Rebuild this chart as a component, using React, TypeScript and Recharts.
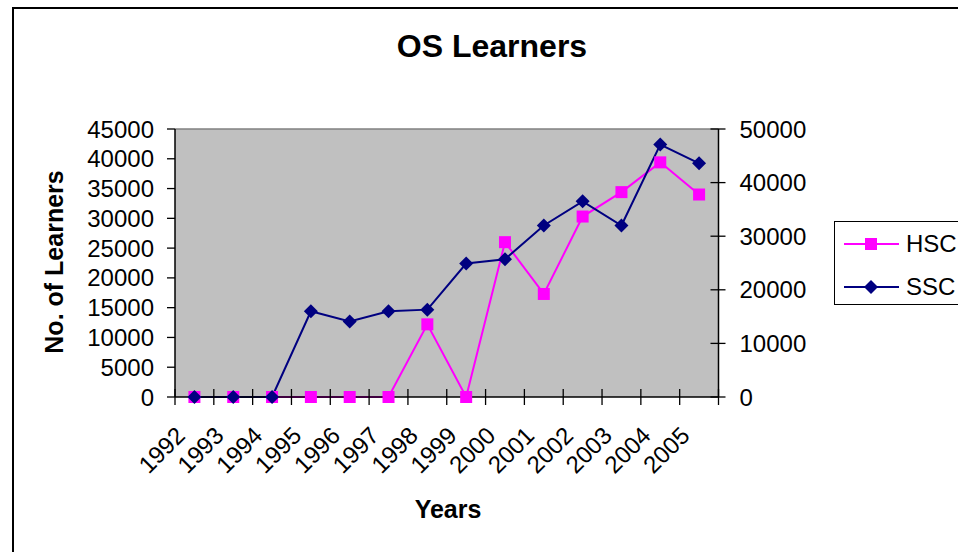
import { CartesianGrid, Customized, Legend, Line, LineChart, ReferenceLine, XAxis, YAxis } from "recharts";

// Excel-style palette
const PINK = "#FF00FF";
const NAVY = "#000080";
const PLOT_BG = "#C0C0C0";
const FONT = "'Liberation Sans', Arial, sans-serif";

const years = ["1992", "1993", "1994", "1995", "1996", "1997", "1998", "1999", "2000", "2001", "2002", "2003", "2004", "2005"];
const hsc = [0, 0, 0, 0, 0, 0, 12200, 0, 26000, 17300, 30300, 34400, 39400, 34000];
const ssc = [0, 0, 0, 16000, 14100, 16000, 16300, 24900, 25700, 32000, 36500, 32000, 47100, 43600];
const leftTicks = [0, 5000, 10000, 15000, 20000, 25000, 30000, 35000, 40000, 45000];
const rightTicks = [0, 10000, 20000, 30000, 40000, 50000];

// categories sit in the middle of each slot, tick marks on slot edges
const data = years.map((year, i) => ({ pos: i + 0.5, year, hsc: hsc[i], ssc: ssc[i] }));
const xTicks: number[] = [];
for (let i = 0; i <= years.length * 2; i++) xTicks.push(i / 2);

const Square = (p: any) => <rect key={p.index} x={p.cx - 6} y={p.cy - 6} width={12} height={12} fill={PINK} />;
const Diamond = (p: any) => (
  <polygon key={p.index} points={`${p.cx},${p.cy - 7} ${p.cx + 7},${p.cy} ${p.cx},${p.cy + 7} ${p.cx - 7},${p.cy}`} fill={NAVY} />
);

function XTick({ x, y, payload }: any) {
  const v = payload.value;
  if (Number.isInteger(v)) {
    return <line x1={x} x2={x} y1={y - 8} y2={y + 8} stroke="#000" strokeWidth={1.3} />;
  }
  const tx = x - 8;
  const ty = y + 40;
  return (
    <text x={tx} y={ty} transform={`rotate(-45, ${tx}, ${ty})`} textAnchor="end" fontSize={24} fontFamily={FONT} fill="#000">
      {years[Math.floor(v)]}
    </text>
  );
}

function LeftTick({ x, y, payload }: any) {
  return (
    <g>
      <line x1={x - 8} x2={x} y1={y} y2={y} stroke="#000" strokeWidth={1.3} />
      <text x={x - 21} y={y + 8.5} textAnchor="end" fontSize={24} fontFamily={FONT} fill="#000">
        {payload.value}
      </text>
    </g>
  );
}

function RightTick({ x, y, payload }: any) {
  return (
    <g>
      <line x1={x - 8} x2={x + 7} y1={y} y2={y} stroke="#000" strokeWidth={1.3} />
      <text x={x + 21} y={y + 8.5} textAnchor="start" fontSize={24} fontFamily={FONT} fill="#000">
        {payload.value}
      </text>
    </g>
  );
}

function LegendBox() {
  return (
    <div style={{ width: 200, height: 84, border: "1px solid #000", background: "#fff", boxSizing: "border-box" }}>
      <svg width={200} height={82}>
        <line x1={9} x2={64} y1={22} y2={22} stroke={PINK} strokeWidth={2} />
        <rect x={30} y={16} width={12} height={12} fill={PINK} />
        <text x={71} y={30} fontSize={24} fontFamily={FONT} fill="#000">HSC</text>
        <line x1={9} x2={64} y1={65} y2={65} stroke={NAVY} strokeWidth={2} />
        <polygon points="36,58 43,65 36,72 29,65" fill={NAVY} />
        <text x={71} y={73} fontSize={24} fontFamily={FONT} fill="#000">SSC</text>
      </svg>
    </div>
  );
}

function Title() {
  return (
    <text x={492} y={57} textAnchor="middle" fontSize={32} fontWeight="bold" fontFamily={FONT} fill="#000">
      OS Learners
    </text>
  );
}

export default function App() {
  return (
    <div style={{ position: "fixed", left: 0, top: 0, width: 958, height: 552, overflow: "hidden", background: "#fff" }}>
      <div style={{ position: "absolute", left: 12, top: 7, width: 1000, height: 600, border: "2px solid #000" }} />
      <div style={{ position: "absolute", left: 0, top: 0 }}>
        <LineChart width={958} height={552} data={data} margin={{ top: 129, right: 179.5, bottom: 95, left: 115 }}>
          <CartesianGrid horizontal={false} vertical={false} fill={PLOT_BG} fillOpacity={1} yAxisId="left" />
          <XAxis
            dataKey="pos"
            type="number"
            domain={[0, years.length]}
            ticks={xTicks}
            interval={0}
            height={60}
            tickSize={0}
            tickMargin={0}
            tickLine={false}
            tick={<XTick />}
            axisLine={{ stroke: "#000", strokeWidth: 1.5 }}
            label={{
              content: () => (
                <text x={448} y={518} textAnchor="middle" fontSize={25} fontWeight="bold" fontFamily={FONT} fill="#000">
                  Years
                </text>
              ),
            }}
          />
          <YAxis
            yAxisId="left"
            orientation="left"
            width={60}
            domain={[0, 45000]}
            ticks={leftTicks}
            interval={0}
            tickSize={0}
            tickMargin={0}
            tickLine={false}
            tick={<LeftTick />}
            axisLine={{ stroke: "#000", strokeWidth: 1.5 }}
            label={{
              content: () => (
                <text x={63} y={262} transform="rotate(-90, 63, 262)" textAnchor="middle" fontSize={25} fontWeight="bold" fontFamily={FONT} fill="#000">
                  No. of Learners
                </text>
              ),
            }}
          />
          <YAxis
            yAxisId="right"
            orientation="right"
            width={60}
            domain={[0, 50000]}
            ticks={rightTicks}
            interval={0}
            tickSize={0}
            tickMargin={0}
            tickLine={false}
            tick={<RightTick />}
            axisLine={{ stroke: "#000", strokeWidth: 1.5 }}
          />
          <ReferenceLine yAxisId="left" y={45000} stroke="#808080" strokeWidth={1.5} />
          <Line
            yAxisId="left"
            type="linear"
            dataKey="hsc"
            name="HSC"
            stroke={PINK}
            strokeWidth={2}
            dot={Square}
            activeDot={false}
            isAnimationActive={false}
          />
          <Line
            yAxisId="right"
            type="linear"
            dataKey="ssc"
            name="SSC"
            stroke={NAVY}
            strokeWidth={2}
            dot={Diamond}
            activeDot={false}
            isAnimationActive={false}
          />
          <Legend
            layout="horizontal"
            verticalAlign="middle"
            align="center"
            wrapperStyle={{ left: 834, top: 221, width: 200, height: 84 }}
            content={() => <LegendBox />}
          />
          <Customized component={Title} />
        </LineChart>
      </div>
    </div>
  );
}
